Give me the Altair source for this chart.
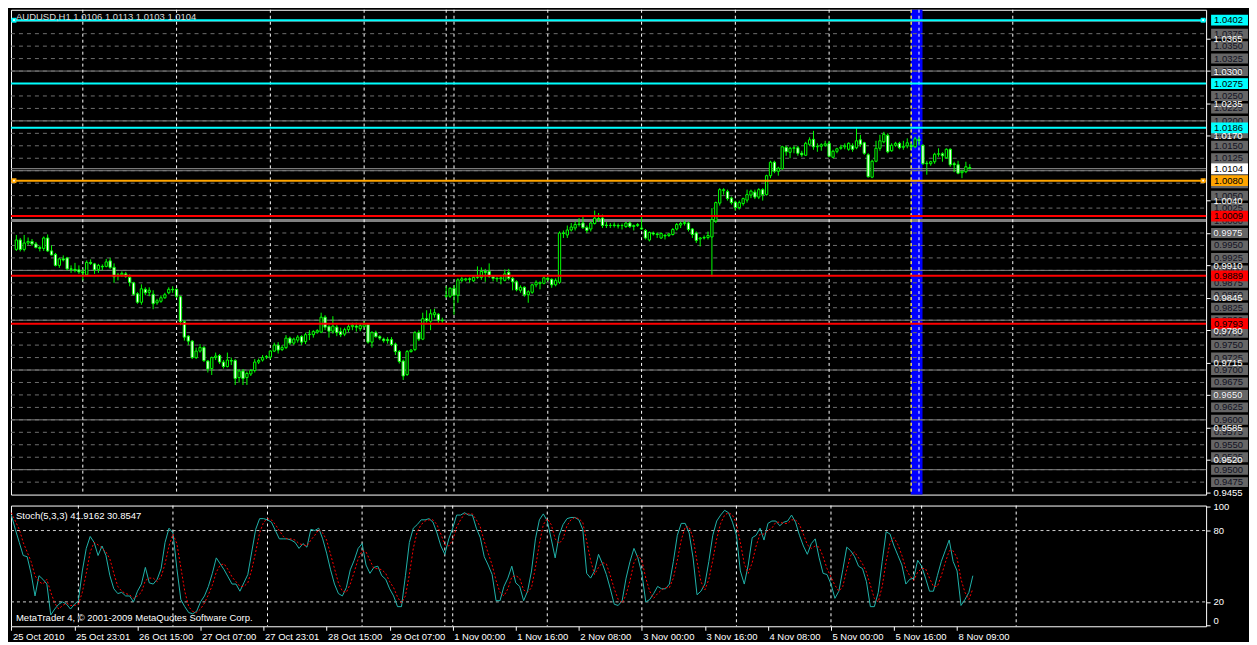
import altair as alt
import pandas as pd

# ---------------- data ----------------
OPEN = [
    0.9942, 0.9961, 0.9942, 0.9955, 0.9958, 0.9953, 0.9946, 0.9944, 0.9965, 0.9939,
    0.9932, 0.9910, 0.9923, 0.9925, 0.9903, 0.9902, 0.9901, 0.9897, 0.9891, 0.9916,
    0.9913, 0.9902, 0.9908, 0.9908, 0.9919, 0.9906, 0.9889, 0.9891, 0.9893, 0.9886,
    0.9875, 0.9853, 0.9836, 0.9862, 0.9856, 0.9852, 0.9835, 0.9838, 0.9845, 0.9855,
    0.9862, 0.9862, 0.9847, 0.9797, 0.9768, 0.9758, 0.9725, 0.9738, 0.9745, 0.9718,
    0.9703, 0.9725, 0.9729, 0.9716, 0.9707, 0.9719, 0.9719, 0.9685, 0.9698, 0.9685,
    0.9692, 0.9699, 0.9716, 0.9720, 0.9726, 0.9726, 0.9738, 0.9750, 0.9741, 0.9745,
    0.9764, 0.9754, 0.9760, 0.9767, 0.9757, 0.9771, 0.9771, 0.9776, 0.9776, 0.9806,
    0.9787, 0.9778, 0.9786, 0.9777, 0.9772, 0.9781, 0.9787, 0.9788, 0.9783, 0.9787,
    0.9791, 0.9756, 0.9775, 0.9767, 0.9762, 0.9761, 0.9761, 0.9752, 0.9737, 0.9718,
    0.9691, 0.9737, 0.9741, 0.9775, 0.9762, 0.9803, 0.9798, 0.9811, 0.9812, 0.9800,
    0.9848, 0.9848, 0.9864, 0.9850, 0.9880, 0.9881, 0.9883, 0.9879, 0.9886, 0.9886,
    0.9898, 0.9898, 0.9887, 0.9884, 0.9883, 0.9880, 0.9896, 0.9884, 0.9877, 0.9860,
    0.9866, 0.9851, 0.9856, 0.9871, 0.9874, 0.9874, 0.9884, 0.9882, 0.9871, 0.9876,
    0.9975, 0.9971, 0.9981, 0.9985, 0.9992, 0.9995, 0.9986, 0.9983, 0.9994, 1.0004,
    1.0005, 0.9991, 0.9990, 0.9990, 0.9990, 0.9990, 0.9988, 0.9995, 0.9988, 0.9990,
    0.9985, 0.9980, 0.9961, 0.9975, 0.9973, 0.9965, 0.9970, 0.9970, 0.9972, 0.9983,
    0.9991, 0.9994, 0.9995, 0.9983, 0.9975, 0.9963, 0.9965, 0.9966, 0.9967, 0.9999,
    1.0035, 1.0060, 1.0058, 1.0045, 1.0037, 1.0026, 1.0034, 1.0041, 1.0051, 1.0057,
    1.0047, 1.0062, 1.0052, 1.0090, 1.0117, 1.0099, 1.0104, 1.0147, 1.0137, 1.0145,
    1.0146, 1.0135, 1.0131, 1.0153, 1.0163, 1.0148, 1.0149, 1.0151, 1.0155, 1.0127,
    1.0139, 1.0145, 1.0148, 1.0143, 1.0150, 1.0146, 1.0162, 1.0156, 1.0132, 1.0087,
    1.0119, 1.0145, 1.0158, 1.0171, 1.0140, 1.0151, 1.0155, 1.0147, 1.0150, 1.0151,
    1.0148, 1.0163, 1.0151, 1.0115, 1.0114, 1.0118, 1.0133, 1.0134, 1.0126, 1.0143,
    1.0114, 1.0112, 1.0096, 1.0098, 1.0106,
]
HIGH = [
    0.9971, 0.9965, 0.9971, 0.9966, 0.9963, 0.9957, 0.9950, 0.9968, 0.9972, 0.9950,
    0.9935, 0.9925, 0.9930, 0.9927, 0.9910, 0.9915, 0.9910, 0.9903, 0.9920, 0.9922,
    0.9915, 0.9913, 0.9912, 0.9923, 0.9925, 0.9914, 0.9895, 0.9898, 0.9897, 0.9892,
    0.9877, 0.9856, 0.9872, 0.9866, 0.9866, 0.9860, 0.9843, 0.9850, 0.9855, 0.9866,
    0.9868, 0.9864, 0.9849, 0.9800, 0.9770, 0.9760, 0.9745, 0.9752, 0.9748, 0.9720,
    0.9727, 0.9735, 0.9732, 0.9720, 0.9735, 0.9725, 0.9722, 0.9702, 0.9702, 0.9697,
    0.9702, 0.9722, 0.9723, 0.9730, 0.9730, 0.9740, 0.9755, 0.9756, 0.9750, 0.9770,
    0.9767, 0.9765, 0.9770, 0.9770, 0.9775, 0.9780, 0.9780, 0.9782, 0.9815, 0.9810,
    0.9790, 0.9808, 0.9790, 0.9785, 0.9785, 0.9792, 0.9795, 0.9795, 0.9793, 0.9798,
    0.9793, 0.9778, 0.9779, 0.9770, 0.9765, 0.9766, 0.9766, 0.9755, 0.9740, 0.9721,
    0.9740, 0.9742, 0.9778, 0.9780, 0.9815, 0.9820, 0.9822, 0.9823, 0.9814, 0.9805,
    0.9868, 0.9866, 0.9870, 0.9884, 0.9887, 0.9885, 0.9886, 0.9888, 0.9908, 0.9906,
    0.9903, 0.9914, 0.9890, 0.9887, 0.9888, 0.9902, 0.9903, 0.9887, 0.9880, 0.9870,
    0.9868, 0.9860, 0.9873, 0.9880, 0.9878, 0.9888, 0.9890, 0.9884, 0.9884, 0.9978,
    0.9980, 0.9990, 0.9995, 0.9998, 1.0005, 1.0008, 0.9990, 0.9998, 1.0020, 1.0015,
    1.0012, 0.9997, 0.9995, 0.9996, 0.9994, 0.9994, 0.9997, 0.9998, 0.9992, 0.9995,
    1.0010, 0.9983, 0.9978, 0.9978, 0.9976, 0.9976, 0.9973, 0.9975, 0.9985, 0.9995,
    0.9998, 1.0000, 0.9998, 0.9985, 0.9978, 0.9967, 0.9970, 0.9978, 1.0025, 1.0038,
    1.0065, 1.0065, 1.0062, 1.0048, 1.0040, 1.0040, 1.0046, 1.0062, 1.0062, 1.0062,
    1.0065, 1.0065, 1.0092, 1.0120, 1.0120, 1.0108, 1.0150, 1.0150, 1.0148, 1.0150,
    1.0150, 1.0140, 1.0158, 1.0167, 1.0180, 1.0155, 1.0155, 1.0160, 1.0160, 1.0142,
    1.0146, 1.0152, 1.0155, 1.0157, 1.0155, 1.0185, 1.0172, 1.0158, 1.0135, 1.0122,
    1.0160, 1.0172, 1.0178, 1.0175, 1.0155, 1.0158, 1.0158, 1.0160, 1.0165, 1.0155,
    1.0168, 1.0168, 1.0153, 1.0120, 1.0120, 1.0136, 1.0145, 1.0137, 1.0145, 1.0145,
    1.0118, 1.0120, 1.0102, 1.0118, 1.0113,
]
LOW = [
    0.9939, 0.9938, 0.9938, 0.9951, 0.9949, 0.9944, 0.9938, 0.9939, 0.9937, 0.9930,
    0.9908, 0.9905, 0.9918, 0.9900, 0.9895, 0.9896, 0.9893, 0.9880, 0.9889, 0.9911,
    0.9893, 0.9895, 0.9900, 0.9906, 0.9903, 0.9875, 0.9880, 0.9887, 0.9885, 0.9868,
    0.9850, 0.9833, 0.9831, 0.9850, 0.9848, 0.9822, 0.9831, 0.9835, 0.9843, 0.9852,
    0.9855, 0.9845, 0.9790, 0.9759, 0.9750, 0.9722, 0.9722, 0.9735, 0.9716, 0.9695,
    0.9690, 0.9720, 0.9712, 0.9703, 0.9705, 0.9710, 0.9670, 0.9675, 0.9670, 0.9670,
    0.9688, 0.9695, 0.9712, 0.9717, 0.9722, 0.9722, 0.9736, 0.9733, 0.9738, 0.9742,
    0.9750, 0.9750, 0.9755, 0.9750, 0.9752, 0.9760, 0.9765, 0.9773, 0.9774, 0.9780,
    0.9765, 0.9773, 0.9768, 0.9766, 0.9768, 0.9776, 0.9780, 0.9777, 0.9778, 0.9785,
    0.9753, 0.9745, 0.9765, 0.9760, 0.9755, 0.9753, 0.9748, 0.9730, 0.9713, 0.9680,
    0.9688, 0.9735, 0.9738, 0.9758, 0.9760, 0.9795, 0.9780, 0.9805, 0.9795, 0.9795,
    0.9845, 0.9845, 0.9811, 0.9835, 0.9876, 0.9878, 0.9875, 0.9877, 0.9883, 0.9881,
    0.9877, 0.9885, 0.9878, 0.9877, 0.9872, 0.9878, 0.9880, 0.9860, 0.9858, 0.9855,
    0.9847, 0.9835, 0.9853, 0.9866, 0.9862, 0.9872, 0.9878, 0.9865, 0.9868, 0.9873,
    0.9965, 0.9965, 0.9978, 0.9980, 0.9988, 0.9983, 0.9975, 0.9978, 0.9992, 0.9998,
    0.9985, 0.9985, 0.9985, 0.9986, 0.9984, 0.9982, 0.9985, 0.9985, 0.9980, 0.9987,
    0.9981, 0.9962, 0.9958, 0.9970, 0.9965, 0.9963, 0.9962, 0.9967, 0.9970, 0.9980,
    0.9985, 0.9990, 0.9978, 0.9965, 0.9955, 0.9948, 0.9962, 0.9962, 0.9888, 0.9995,
    1.0030, 1.0052, 1.0040, 1.0032, 1.0020, 1.0022, 1.0030, 1.0036, 1.0045, 1.0043,
    1.0043, 1.0040, 1.0050, 1.0085, 1.0095, 1.0090, 1.0102, 1.0130, 1.0125, 1.0135,
    1.0130, 1.0128, 1.0130, 1.0150, 1.0142, 1.0138, 1.0140, 1.0148, 1.0127, 1.0125,
    1.0135, 1.0142, 1.0143, 1.0140, 1.0138, 1.0143, 1.0148, 1.0132, 1.0086, 1.0085,
    1.0117, 1.0140, 1.0155, 1.0135, 1.0138, 1.0148, 1.0143, 1.0142, 1.0145, 1.0143,
    1.0145, 1.0150, 1.0112, 1.0092, 1.0110, 1.0114, 1.0128, 1.0118, 1.0124, 1.0108,
    1.0097, 1.0093, 1.0085, 1.0095, 1.0103,
]
CLOSE = [
    0.9961, 0.9942, 0.9955, 0.9958, 0.9953, 0.9946, 0.9944, 0.9965, 0.9939, 0.9931,
    0.9910, 0.9923, 0.9921, 0.9903, 0.9902, 0.9900, 0.9897, 0.9895, 0.9916, 0.9914,
    0.9901, 0.9910, 0.9907, 0.9917, 0.9906, 0.9887, 0.9891, 0.9894, 0.9888, 0.9876,
    0.9852, 0.9836, 0.9863, 0.9855, 0.9860, 0.9833, 0.9839, 0.9845, 0.9851, 0.9862,
    0.9861, 0.9848, 0.9797, 0.9766, 0.9758, 0.9725, 0.9738, 0.9745, 0.9719, 0.9702,
    0.9725, 0.9728, 0.9716, 0.9707, 0.9720, 0.9718, 0.9683, 0.9698, 0.9683, 0.9693,
    0.9699, 0.9716, 0.9719, 0.9725, 0.9727, 0.9738, 0.9750, 0.9740, 0.9745, 0.9764,
    0.9754, 0.9762, 0.9766, 0.9756, 0.9771, 0.9772, 0.9777, 0.9779, 0.9806, 0.9786,
    0.9778, 0.9788, 0.9775, 0.9771, 0.9781, 0.9787, 0.9790, 0.9786, 0.9789, 0.9791,
    0.9756, 0.9775, 0.9767, 0.9764, 0.9759, 0.9759, 0.9751, 0.9737, 0.9717, 0.9688,
    0.9737, 0.9740, 0.9775, 0.9762, 0.9803, 0.9799, 0.9813, 0.9815, 0.9800, 0.9799,
    0.9849, 0.9864, 0.9850, 0.9881, 0.9883, 0.9883, 0.9882, 0.9886, 0.9886, 0.9898,
    0.9896, 0.9888, 0.9884, 0.9883, 0.9885, 0.9893, 0.9884, 0.9877, 0.9861, 0.9866,
    0.9851, 0.9857, 0.9871, 0.9876, 0.9875, 0.9885, 0.9882, 0.9871, 0.9880, 0.9975,
    0.9974, 0.9981, 0.9987, 0.9992, 0.9993, 0.9986, 0.9980, 0.9995, 1.0005, 1.0003,
    0.9990, 0.9990, 0.9990, 0.9991, 0.9989, 0.9990, 0.9995, 0.9988, 0.9990, 0.9992,
    0.9983, 0.9965, 0.9976, 0.9973, 0.9972, 0.9974, 0.9969, 0.9973, 0.9982, 0.9992,
    0.9994, 0.9996, 0.9982, 0.9972, 0.9960, 0.9965, 0.9966, 0.9970, 1.0002, 1.0036,
    1.0062, 1.0062, 1.0044, 1.0036, 1.0026, 1.0036, 1.0044, 1.0052, 1.0059, 1.0047,
    1.0062, 1.0052, 1.0090, 1.0117, 1.0099, 1.0105, 1.0148, 1.0138, 1.0145, 1.0146,
    1.0135, 1.0132, 1.0155, 1.0162, 1.0148, 1.0149, 1.0152, 1.0154, 1.0129, 1.0139,
    1.0144, 1.0147, 1.0150, 1.0155, 1.0143, 1.0160, 1.0153, 1.0135, 1.0088, 1.0119,
    1.0145, 1.0160, 1.0173, 1.0138, 1.0151, 1.0155, 1.0146, 1.0149, 1.0156, 1.0148,
    1.0164, 1.0160, 1.0114, 1.0114, 1.0118, 1.0133, 1.0134, 1.0130, 1.0143, 1.0112,
    1.0112, 1.0095, 1.0099, 1.0108, 1.0104,
]
STOCH_K = [
    93, 81, 70, 59, 58, 44, 25, 42, 39, 35, 9, 14, 18, 20, 18, 14, 18, 21, 46, 65,
    75, 70, 59, 67, 59, 42, 31, 27, 28, 25, 25, 20, 29, 35, 49, 36, 35, 39, 48, 70,
    82, 78, 48, 22, 16, 11, 10, 12, 20, 25, 33, 44, 57, 52, 47, 41, 35, 35, 29, 36,
    43, 62, 81, 90, 90, 89, 87, 80, 73, 73, 73, 72, 70, 65, 69, 66, 81, 80, 82, 73,
    61, 47, 35, 27, 25, 32, 47, 55, 65, 69, 51, 44, 49, 50, 42, 39, 31, 25, 16, 16,
    42, 70, 82, 85, 89, 89, 90, 87, 78, 67, 60, 73, 82, 93, 93, 95, 93, 93, 82, 74,
    58, 51, 43, 21, 21, 33, 40, 50, 36, 33, 21, 29, 46, 73, 89, 94, 88, 73, 57, 76,
    85, 90, 91, 91, 89, 81, 44, 40, 46, 60, 52, 43, 31, 18, 17, 21, 40, 54, 65, 57,
    44, 20, 22, 27, 33, 31, 31, 35, 54, 76, 86, 86, 78, 57, 26, 29, 35, 54, 76, 88,
    93, 97, 95, 87, 76, 46, 35, 51, 74, 76, 82, 72, 86, 88, 88, 84, 87, 88, 93, 87,
    76, 67, 60, 69, 73, 57, 44, 43, 35, 23, 29, 47, 66, 63, 58, 50, 48, 37, 16, 16,
    28, 54, 79, 77, 67, 59, 51, 35, 39, 40, 55, 50, 40, 29, 29, 42, 54, 63, 72, 54,
    46, 17, 22, 28, 42,
]
STOCH_D = [
    95, 88, 81, 70, 62, 54, 42, 37, 35, 39, 28, 19, 14, 17, 19, 17, 17, 18, 28, 44,
    62, 70, 68, 65, 62, 56, 44, 33, 29, 27, 26, 23, 25, 28, 38, 40, 40, 37, 41, 52,
    67, 77, 69, 49, 29, 16, 12, 11, 14, 19, 26, 34, 45, 51, 52, 47, 41, 37, 33, 33,
    36, 47, 62, 78, 87, 90, 89, 85, 80, 75, 73, 73, 72, 69, 68, 67, 72, 76, 81, 78,
    72, 60, 48, 36, 29, 28, 35, 45, 56, 63, 62, 55, 48, 48, 47, 44, 37, 32, 24, 19,
    25, 43, 65, 79, 85, 88, 89, 89, 85, 77, 68, 67, 72, 83, 89, 94, 94, 94, 89, 83,
    71, 61, 51, 38, 28, 25, 31, 41, 42, 40, 30, 28, 32, 49, 69, 85, 90, 85, 73, 69,
    73, 84, 89, 91, 90, 87, 71, 55, 43, 49, 53, 52, 42, 31, 22, 19, 26, 38, 53, 59,
    55, 40, 29, 23, 27, 30, 32, 32, 40, 55, 72, 83, 83, 74, 54, 37, 30, 39, 55, 73,
    86, 93, 95, 93, 86, 70, 52, 44, 53, 67, 77, 77, 80, 82, 87, 87, 86, 86, 89, 89,
    85, 77, 68, 65, 67, 66, 58, 48, 41, 34, 29, 33, 47, 59, 62, 57, 52, 45, 34, 23,
    20, 33, 54, 70, 74, 68, 59, 48, 42, 38, 45, 48, 48, 40, 33, 33, 42, 53, 63, 63,
    57, 39, 28, 22, 31,
]
X_TICK_BARS = [0, 16, 32, 48, 64, 80, 96, 112, 128, 144, 160, 176, 192, 208, 224, 240]
X_LABELS = ["25 Oct 2010", "25 Oct 23:01", "26 Oct 15:00", "27 Oct 07:00",
            "27 Oct 23:01", "28 Oct 15:00", "29 Oct 07:00", "1 Nov 00:00",
            "1 Nov 16:00", "2 Nov 08:00", "3 Nov 00:00", "3 Nov 16:00",
            "4 Nov 08:00", "5 Nov 00:00", "5 Nov 16:00", "8 Nov 09:00"]
GRID_BARS = [17, 41, 65, 89, 110, 112, 136, 160, 184, 208, 229, 231, 255]
YELLOW_VLINE = [229]
BAND = [228.9, 231.9]
PRICE_TICKS = [1.0365, 1.0300, 1.0235, 1.0170, 1.0040, 0.9975, 0.9910, 0.9845,
               0.9780, 0.9715, 0.9650, 0.9585, 0.9520, 0.9455]
GRAY_LEVELS = [0.9475, 0.9500, 0.9525, 0.9550, 0.9575, 0.9600, 0.9625, 0.9650,
               0.9675, 0.9700, 0.9725, 0.9750, 0.9775, 0.9800, 0.9825, 0.9850,
               0.9875, 0.9900, 0.9925, 0.9950, 0.9975, 1.0000, 1.0025, 1.0050,
               1.0075, 1.0100, 1.0125, 1.0150, 1.0175, 1.0200, 1.0225, 1.0250,
               1.0275, 1.0300, 1.0325, 1.0350, 1.0375]
SOLID_LEVELS = [0.9500, 0.9600, 0.9700, 0.9800, 0.9900, 1.0100, 1.0200, 1.0300, 1.0400]
THICK_LEVELS = [1.0000]
BID = [1.0104]
LINE_LEVELS = [1.0402, 1.0275, 1.0186, 1.0080, 1.0009, 0.9889, 0.9793]
LINE_COLORS = ["#00FFFF", "#00FFFF", "#00FFFF", "#FFA500", "#FF0000", "#FF0000", "#FF0000"]
SELECTED_LEVELS = [1.0402, 1.0080]
SELECTED_COLORS = ["#00FFFF", "#FFA500"]
STOCH_LEVELS = [20, 80]
MAIN_TITLE = ["AUDUSD,H1  1.0106 1.0113 1.0103 1.0104"]
STOCH_TITLE = ["Stoch(5,3,3) 41.9162 30.8547"]
COPYRIGHT = ["MetaTrader 4, \u00a9 2001-2009 MetaQuotes Software Corp."]

# ---------------- layout / style ----------------
W, H1, H2 = 1198, 486, 121
FONT = "Liberation Sans"
FS = 9.5
LIME = "#00FF00"
XDOM = [-0.1, 303.2]
YDOM = [0.9450, 1.0423]
SDOM = [-0.5, 101.0]

xs = alt.Scale(domain=XDOM, nice=False, zero=False)
ys = alt.Scale(domain=YDOM, nice=False, zero=False)
ss = alt.Scale(domain=SDOM, nice=False, zero=False)

price_axis = alt.Axis(orient="right", values=PRICE_TICKS, format=".4f",
                      labelColor="white", tickColor="white", tickSize=4,
                      labelPadding=3, domain=False, grid=False, labelFont=FONT,
                      labelFontSize=FS, labelOverlap=False, zindex=1)
stoch_axis = alt.Axis(orient="right", values=[0, 20, 80, 100], labelColor="white",
                      tickColor="white", tickSize=4, labelPadding=3, domain=False,
                      grid=False, labelFlush=True, labelFont=FONT, labelFontSize=FS,
                      labelOverlap=False, zindex=1)
label_js = "[" + ",".join("'%s'" % s for s in X_LABELS) + "]"
bars_js = "[" + ",".join(str(b) for b in X_TICK_BARS) + "]"
time_axis = alt.Axis(values=X_TICK_BARS,
                     labelExpr=label_js + "[indexof(" + bars_js + ", datum.value)]",
                     labelAlign="left", labelBaseline="top", labelPadding=1,
                     labelOffset=1, labelColor="white", tickColor="white",
                     tickSize=4, domain=False, grid=False, labelFlush=False,
                     labelOverlap=False, labelFont=FONT, labelFontSize=FS, zindex=1)


def MX(f):
    return alt.X(f, type="quantitative", scale=xs, axis=None, title=None)


def MY(f):
    return alt.Y(f, type="quantitative", scale=ys, axis=price_axis, title=None)


def SX(f):
    return alt.X(f, type="quantitative", scale=xs, axis=time_axis, title=None)


def SY(f):
    return alt.Y(f, type="quantitative", scale=ss, axis=stoch_axis, title=None)


candles = pd.DataFrame({"bar": list(range(len(OPEN))), "open": OPEN, "high": HIGH,
                        "low": LOW, "close": CLOSE})
stoch = pd.DataFrame({"bar": list(range(len(STOCH_K))), "k": STOCH_K, "d": STOCH_D})
grid_df = pd.DataFrame({"bar": GRID_BARS})
gray_df = pd.DataFrame({"price": GRAY_LEVELS})
lines_df = pd.DataFrame({"price": LINE_LEVELS, "color": LINE_COLORS})
sel_df = pd.DataFrame({"price": SELECTED_LEVELS, "color": SELECTED_COLORS})

band = alt.Chart(pd.DataFrame({"x0": [BAND[0]], "x1": [BAND[1]]})).mark_rect(
    color="#0000FF").encode(x=MX("x0"), x2="x1", y=alt.value(0), y2=alt.value(H1))
dashed = alt.Chart(gray_df).mark_rule(color="#6e6e6e", strokeDash=[4, 4]).encode(
    y=MY("price"), x=alt.value(0), x2=alt.value(W))
solid = alt.Chart(pd.DataFrame({"price": SOLID_LEVELS})).mark_rule(color="#808080").encode(
    y=MY("price"), x=alt.value(0), x2=alt.value(W))
thick = alt.Chart(pd.DataFrame({"price": THICK_LEVELS})).mark_rule(
    color="#808080", strokeWidth=3).encode(y=MY("price"), x=alt.value(0), x2=alt.value(W))
bidline = alt.Chart(pd.DataFrame({"price": BID})).mark_rule(color="#9a9a9a").encode(
    y=MY("price"), x=alt.value(0), x2=alt.value(W))
vgrid = alt.Chart(grid_df).mark_rule(color="white", strokeDash=[3, 3]).encode(
    x=MX("bar"), y=alt.value(0), y2=alt.value(H1))
vyellow = alt.Chart(pd.DataFrame({"bar": YELLOW_VLINE})).mark_rule(
    color="#FFE000", strokeDash=[3, 3]).encode(x=MX("bar"), y=alt.value(0), y2=alt.value(H1))
wicks = alt.Chart(candles).mark_rule(color=LIME, strokeWidth=1).encode(
    x=MX("bar"), y=MY("low"), y2=alt.Y2("high"))
bodies = alt.Chart(candles).mark_bar(size=2.3, stroke=LIME, strokeWidth=1).encode(
    x=MX("bar"), y=MY("open"), y2=alt.Y2("close"),
    fill=alt.condition(alt.datum.close >= alt.datum.open, alt.value("black"), alt.value("white")))
hlines = alt.Chart(lines_df).mark_rule(strokeWidth=2).encode(
    y=MY("price"), x=alt.value(0), x2=alt.value(W), color=alt.Color("color:N", scale=None))
sq_left = alt.Chart(sel_df).mark_square(size=24, opacity=1).encode(
    y=MY("price"), x=alt.value(3), color=alt.Color("color:N", scale=None))
sq_right = alt.Chart(sel_df).mark_square(size=24, opacity=1).encode(
    y=MY("price"), x=alt.value(W - 3), color=alt.Color("color:N", scale=None))
dot_left = alt.Chart(sel_df).mark_square(size=3, color="white", opacity=1).encode(
    y=MY("price"), x=alt.value(3))
dot_right = alt.Chart(sel_df).mark_square(size=3, color="white", opacity=1).encode(
    y=MY("price"), x=alt.value(W - 3))

gray_box = alt.Chart(gray_df).transform_calculate(
    lo="datum.price - 0.00100", hi="datum.price + 0.00100").mark_rect(color="#666666").encode(
    x=alt.value(W + 5), x2=alt.value(W + 42), y=MY("lo:Q"), y2=alt.Y2("hi:Q"))
gray_txt = alt.Chart(gray_df).mark_text(align="left", baseline="middle", font=FONT,
                                        fontSize=FS, color="#111122").encode(
    x=alt.value(W + 8), y=MY("price"), text=alt.Text("price:Q", format=".4f"))
col_box = alt.Chart(lines_df).transform_calculate(
    lo="datum.price - 0.00108", hi="datum.price + 0.00108").mark_rect().encode(
    x=alt.value(W + 5), x2=alt.value(W + 42), y=MY("lo:Q"), y2=alt.Y2("hi:Q"),
    color=alt.Color("color:N", scale=None))
col_txt = alt.Chart(lines_df).mark_text(align="left", baseline="middle", font=FONT,
                                        fontSize=FS, color="black").encode(
    x=alt.value(W + 8), y=MY("price"), text=alt.Text("price:Q", format=".4f"))
bid_box = alt.Chart(pd.DataFrame({"price": BID})).transform_calculate(
    lo="datum.price - 0.00108", hi="datum.price + 0.00108").mark_rect(color="white").encode(
    x=alt.value(W + 5), x2=alt.value(W + 42), y=MY("lo:Q"), y2=alt.Y2("hi:Q"))
bid_txt = alt.Chart(pd.DataFrame({"price": BID})).mark_text(
    align="left", baseline="middle", font=FONT, fontSize=FS, color="black").encode(
    x=alt.value(W + 8), y=MY("price"), text=alt.Text("price:Q", format=".4f"))
title = alt.Chart(pd.DataFrame({"t": MAIN_TITLE})).mark_text(
    align="left", baseline="middle", font=FONT, fontSize=FS, color="#dddddd").encode(
    x=alt.value(5), y=alt.value(7), text="t:N")

main = alt.layer(band, dashed, solid, thick, bidline, vgrid, vyellow, wicks, bodies,
                 hlines, sq_left, sq_right, dot_left, dot_right, gray_box, gray_txt,
                 col_box, col_txt, bid_box, bid_txt, title).properties(width=W, height=H1)

s_grid = alt.Chart(grid_df).mark_rule(color="white", strokeDash=[3, 3]).encode(
    x=SX("bar"), y=alt.value(0), y2=alt.value(H2))
s_levels = alt.Chart(pd.DataFrame({"level": STOCH_LEVELS})).mark_rule(
    color="#d0d0d0", strokeDash=[3, 3]).encode(y=SY("level"), x=alt.value(0), x2=alt.value(W))
k_line = alt.Chart(stoch).mark_line(color="#20B2AA", strokeWidth=1).encode(
    x=SX("bar"), y=SY("k"))
d_line = alt.Chart(stoch).mark_line(color="#FF0000", strokeWidth=1, strokeDash=[2, 2]).encode(
    x=SX("bar"), y=SY("d"))
s_title = alt.Chart(pd.DataFrame({"t": STOCH_TITLE})).mark_text(
    align="left", baseline="middle", font=FONT, fontSize=FS, color="white").encode(
    x=alt.value(5), y=alt.value(10), text="t:N")
s_copy = alt.Chart(pd.DataFrame({"t": COPYRIGHT})).mark_text(
    align="left", baseline="middle", font=FONT, fontSize=FS, color="white").encode(
    x=alt.value(5), y=alt.value(H2 - 8), text="t:N")

lower = alt.layer(s_grid, s_levels, k_line, d_line, s_title, s_copy).properties(
    width=W, height=H2)

chart = alt.vconcat(main, lower, spacing=3).properties(
    padding=0, background="black"
).configure_view(stroke="white", strokeWidth=1)

chart.save("out.html", embed_options={"renderer": "svg", "actions": False})
